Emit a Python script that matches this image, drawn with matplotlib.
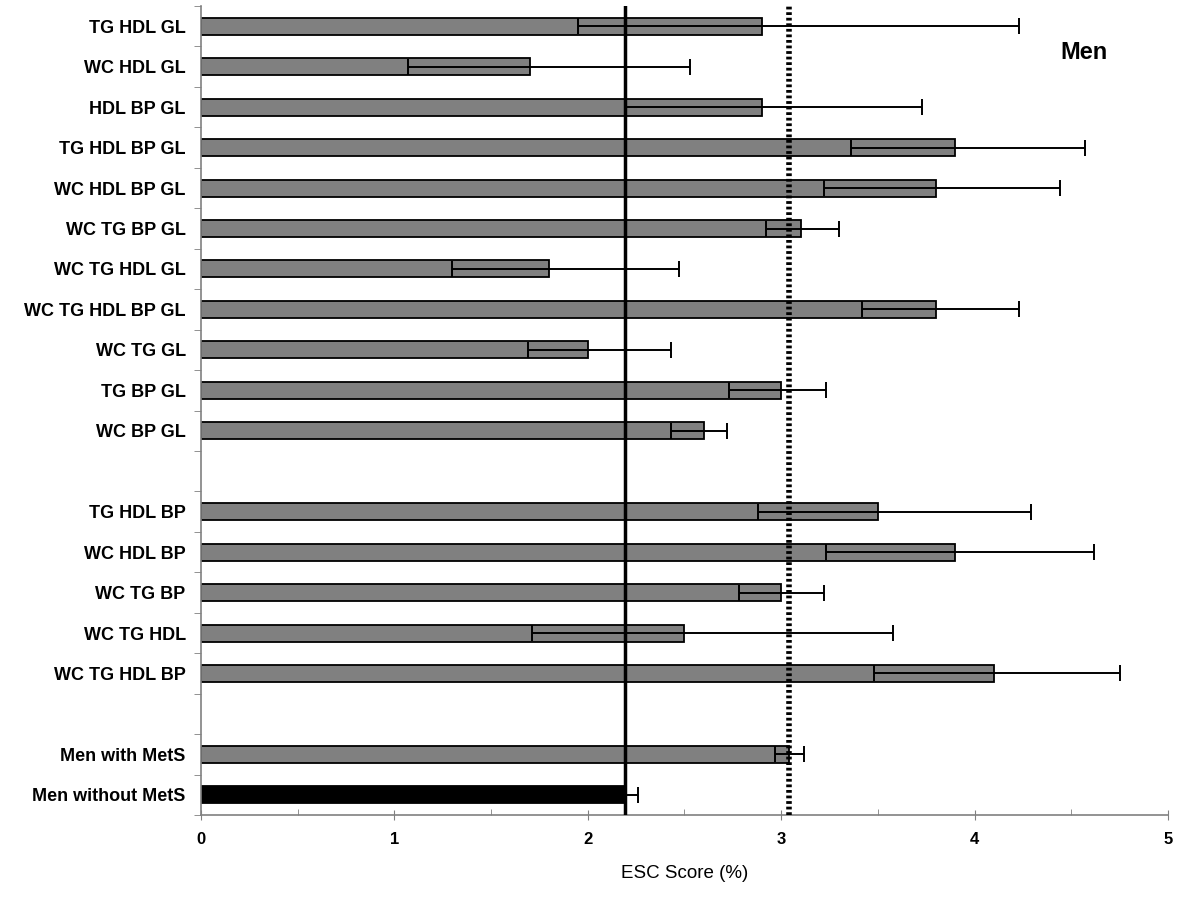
import matplotlib
matplotlib.use("Agg")
import matplotlib.pyplot as plt
import numpy as np
from matplotlib.ticker import FixedLocator, MultipleLocator

plt.rcParams['font.family'] = ['Liberation Sans', 'DejaVu Sans']

categories = ["TG HDL GL", "WC HDL GL", "HDL BP GL", "TG HDL BP GL", "WC HDL BP GL",
              "WC TG BP GL", "WC TG HDL GL", "WC TG HDL BP GL", "WC TG GL", "TG BP GL",
              "WC BP GL", "", "TG HDL BP", "WC HDL BP", "WC TG BP", "WC TG HDL",
              "WC TG HDL BP", "", "Men with MetS", "Men without MetS"]
values = [2.90, 1.70, 2.90, 3.90, 3.80, 3.10, 1.80, 3.80, 2.00, 3.00,
          2.60, None, 3.50, 3.90, 3.00, 2.50, 4.10, None, 3.04, 2.20]
err_low = [1.95, 1.07, 2.20, 3.36, 3.22, 2.92, 1.30, 3.42, 1.69, 2.73,
           2.43, None, 2.88, 3.23, 2.78, 1.71, 3.48, None, 2.97, 2.13]
err_high = [4.23, 2.53, 3.73, 4.57, 4.44, 3.30, 2.47, 4.23, 2.43, 3.23,
            2.72, None, 4.29, 4.62, 3.22, 3.58, 4.75, None, 3.12, 2.26]
colors = ["#808080"] * 19 + ["#000000"]
ref_without = 2.19
ref_with = 3.04

fig = plt.figure(figsize=(12, 9), dpi=100)
ax = fig.add_axes([0.1675, 0.0944, 0.8058, 0.8989])

pos = np.arange(len(categories))
for i, (v, lo, hi, c) in enumerate(zip(values, err_low, err_high, colors)):
    if v is None:
        continue
    ax.barh(i, v, height=0.42, color=c, edgecolor="black", linewidth=1.3, zorder=2)
    ax.errorbar(v, i, xerr=[[v - lo], [hi - v]], fmt="none", ecolor="black",
                elinewidth=1.4, capsize=5.5, capthick=1.4, zorder=4)

ax.axvline(ref_without, color="black", linewidth=2.5, zorder=3)
ax.axvline(ref_with, color="black", linewidth=4, linestyle=(0, (0.5, 0.5)), zorder=3)

ax.set_xlim(0, 5)
ax.set_ylim(len(categories) - 0.5, -0.5)

ax.set_yticks(pos)
ax.set_yticklabels(categories, fontsize=13, fontweight="bold")
ax.tick_params(axis="y", which="major", length=0, pad=11)
ax.yaxis.set_minor_locator(FixedLocator(np.arange(-0.5, len(categories) + 0.5, 1)))
ax.tick_params(axis="y", which="minor", length=5, direction="out", color="#808080")

ax.set_xticks(np.arange(0, 6, 1))
ax.set_xticklabels([str(i) for i in range(6)], fontsize=12, fontweight="bold")
ax.xaxis.set_minor_locator(MultipleLocator(0.5))
ax.tick_params(axis="x", which="major", length=7, direction="inout", color="#808080", pad=9)
ax.tick_params(axis="x", which="minor", length=4, direction="in", color="#808080")

for s in ["top", "right"]:
    ax.spines[s].set_visible(False)
for s in ["left", "bottom"]:
    ax.spines[s].set_color("#808080")
    ax.spines[s].set_linewidth(1.2)

ax.set_xlabel("ESC Score (%)", fontsize=13.5, labelpad=13)
ax.text(0.913, 0.943, "Men", transform=ax.transAxes, fontsize=17, fontweight="bold",
        ha="center", va="center")

fig.savefig("out.png", dpi=100)
